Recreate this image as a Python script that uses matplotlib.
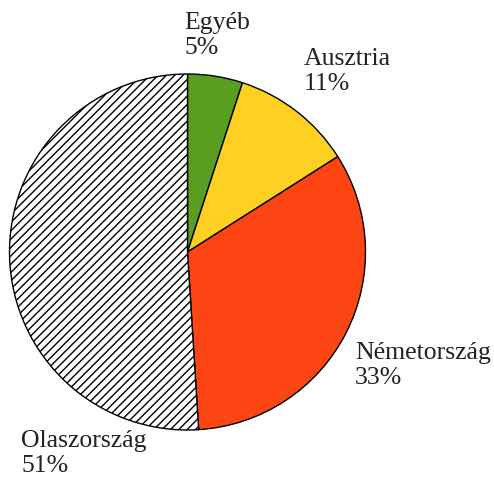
import matplotlib.pyplot as plt

# Share of exports by country
labels = ['Egyéb', 'Ausztria', 'Németország', 'Olaszország']
shares = [5, 11, 33, 51]
colors = ['#5a9e1f', '#fdd022', '#fc4512', 'white']
hatches = ['', '', '', '////']

plt.rcParams['font.family'] = ['Liberation Serif', 'DejaVu Serif']
plt.rcParams['hatch.linewidth'] = 1.0

fig = plt.figure(figsize=(4.94, 4.78), dpi=100)
ax = fig.add_axes([0, 0, 1, 1])

# pie centre at (187.5, 252) px, radius 178 px
R = 178.0
cx, cy = 187.5, 252.0

wedges, _ = ax.pie(shares, colors=colors, startangle=90, counterclock=False,
                   radius=1.0, wedgeprops=dict(edgecolor='black', linewidth=1.0))
for w, h in zip(wedges, hatches):
    w.set_hatch(h)

ax.set_xlim(-cx / R, (494 - cx) / R)
ax.set_ylim(-(478 - cy) / R, cy / R)
ax.set_aspect('equal')
ax.axis('off')

# label anchor positions (top-left, in pixels)
label_pos = [(184, 12), (304, 48), (355, 342), (21, 430)]
for lab, s, (px, py) in zip(labels, shares, label_pos):
    ax.text((px - cx) / R, (cy - py) / R, f'{lab}\n{s}%', ha='left', va='top',
            fontsize=18.5, color='#222222', linespacing=1.2)

plt.savefig('out.png', dpi=100)
